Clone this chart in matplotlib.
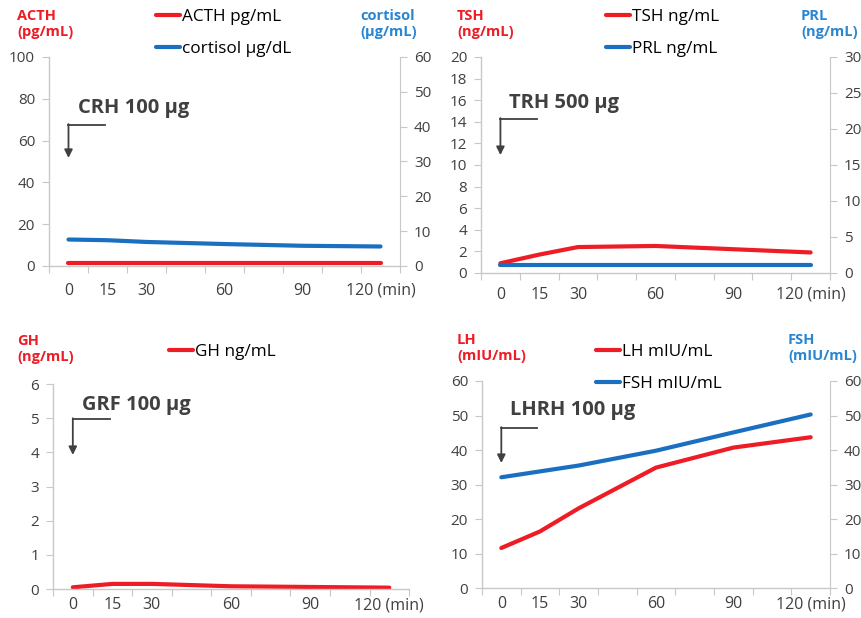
import matplotlib.pyplot as plt
from matplotlib.transforms import blended_transform_factory

plt.rcParams['font.family'] = ['Open Sans', 'DejaVu Sans']

# sampling times (min)
t = [0, 15, 30, 60, 90, 120]
x_labels = ['0', '15', '30', '60', '90', '120 (min)']

acth = [1.6, 1.6, 1.6, 1.6, 1.6, 1.6]
cortisol = [7.6, 7.4, 6.9, 6.3, 5.8, 5.6]

tsh = [0.9, 1.7, 2.4, 2.5, 2.2, 1.9]
prl = [1.1, 1.1, 1.1, 1.1, 1.1, 1.1]

gh = [0.05, 0.15, 0.15, 0.08, 0.06, 0.04]

lh = [11.6, 16.4, 23.1, 34.9, 40.7, 43.7]
fsh = [32.1, 33.8, 35.5, 39.8, 45.1, 50.3]

RED = '#ee1c25'
BLUE = '#1b6fc0'
LBLUE = '#2a86d1'
GRAY = '#404040'
SPINE = '#c8c8c8'

fig = plt.figure(figsize=(8.61, 6.18), dpi=100)


def style(ax, ymax, ystep, xpad):
    ax.set_xlim(-7.5, 127.5)
    ax.set_ylim(0, ymax)
    ax.set_yticks(range(0, ymax + 1, ystep))
    ax.set_xticks([-7.5 + 15 * k for k in range(10)])
    ax.set_xticklabels([])
    ax.set_xticks(t, minor=True)
    ax.set_xticklabels(x_labels, minor=True)
    ax.tick_params(axis='x', which='major', length=5, color=SPINE, direction='out')
    ax.tick_params(axis='x', which='minor', length=0, pad=xpad, labelsize=11.5, labelcolor=GRAY)
    ax.tick_params(axis='y', length=5, color=SPINE, labelsize=11, labelcolor=GRAY, pad=5)
    for s in ['top', 'right']:
        ax.spines[s].set_visible(False)
    for s in ['left', 'bottom']:
        ax.spines[s].set_color(SPINE)
        ax.spines[s].set_linewidth(1)


def twin(ax, ymax, ystep):
    ax2 = ax.twinx()
    ax2.set_ylim(0, ymax)
    ax2.set_yticks(range(0, ymax + 1, ystep))
    for s in ['top', 'left', 'bottom']:
        ax2.spines[s].set_visible(False)
    ax2.spines['right'].set_color(SPINE)
    ax2.tick_params(axis='y', length=5, color=SPINE, labelsize=11, labelcolor=GRAY, pad=5)
    return ax2


def stim(ax, text, ty, hy, tipy):
    tr = blended_transform_factory(ax.transData, ax.transAxes)
    ax.plot([0, 14], [hy, hy], color=GRAY, lw=1.3, transform=tr, clip_on=False)
    ax.annotate('', xy=(0, tipy), xytext=(0, hy + 0.004), xycoords=tr, textcoords=tr,
                arrowprops=dict(arrowstyle='-|>', color=GRAY, lw=1.3, mutation_scale=12,
                                shrinkA=0, shrinkB=0))
    ax.text(3.5, ty, text, transform=tr, fontsize=14.5, fontweight='bold', color=GRAY,
            va='center', ha='left')


def axlabel(x, y, text, color):
    fig.text(x / 861, 1 - y / 618, text, fontsize=10.5, fontweight='bold', color=color,
             va='top', ha='left', linespacing=1.2)


def legend(handles, x, y):
    fig.legend(handles=handles, loc='upper left', bbox_to_anchor=(x / 861, 1 - y / 618),
               frameon=False, fontsize=12.3, handlelength=1.4, handletextpad=0.1,
               labelspacing=0.95, borderaxespad=0, borderpad=0)


# panel 1: CRH
ax1 = fig.add_axes([0.0569, 0.5696, 0.4077, 0.3382])
style(ax1, 100, 20, 12)
a1 = twin(ax1, 60, 10)
l1, = ax1.plot(t, acth, color=RED, lw=3, solid_capstyle='round', label='ACTH pg/mL')
l2, = a1.plot(t, cortisol, color=BLUE, lw=3, solid_capstyle='round', label='cortisol μg/dL')
stim(ax1, 'CRH 100 μg', 0.756, 0.675, 0.517)
axlabel(17, 9, 'ACTH\n(pg/mL)', RED)
axlabel(360, 9, 'cortisol\n(μg/mL)', LBLUE)
legend([l1, l2], 156, 9)

# panel 2: TRH
ax2 = fig.add_axes([0.5587, 0.5583, 0.4053, 0.3495])
style(ax2, 20, 2, 10)
a2 = twin(ax2, 30, 5)
l3, = ax2.plot(t, tsh, color=RED, lw=3, solid_capstyle='round', label='TSH ng/mL')
l4, = a2.plot(t, prl, color=BLUE, lw=3, solid_capstyle='round', label='PRL ng/mL')
stim(ax2, 'TRH 500 μg', 0.787, 0.713, 0.546)
axlabel(457, 9, 'TSH\n(ng/mL)', RED)
axlabel(801, 9, 'PRL\n(ng/mL)', LBLUE)
legend([l3, l4], 606, 9)

# panel 3: GRF
ax3 = fig.add_axes([0.0616, 0.0469, 0.4135, 0.3317])
style(ax3, 6, 1, 6)
l5, = ax3.plot(t, gh, color=RED, lw=3, solid_capstyle='round', label='GH ng/mL')
stim(ax3, 'GRF 100 μg', 0.898, 0.829, 0.654)
axlabel(17, 334, 'GH\n(ng/mL)', RED)
legend([l5], 169, 344)

# panel 4: LHRH
ax4 = fig.add_axes([0.5598, 0.0485, 0.4042, 0.335])
style(ax4, 60, 10, 6)
a4 = twin(ax4, 60, 10)
l6, = ax4.plot(t, lh, color=RED, lw=3, solid_capstyle='round', label='LH mIU/mL')
l7, = a4.plot(t, fsh, color=BLUE, lw=3, solid_capstyle='round', label='FSH mIU/mL')
stim(ax4, 'LHRH 100 μg', 0.86, 0.773, 0.604)
axlabel(457, 333, 'LH\n(mIU/mL)', RED)
axlabel(788, 333, 'FSH\n(mIU/mL)', LBLUE)
legend([l6, l7], 596, 344)

fig.savefig('out.png', dpi=100)
